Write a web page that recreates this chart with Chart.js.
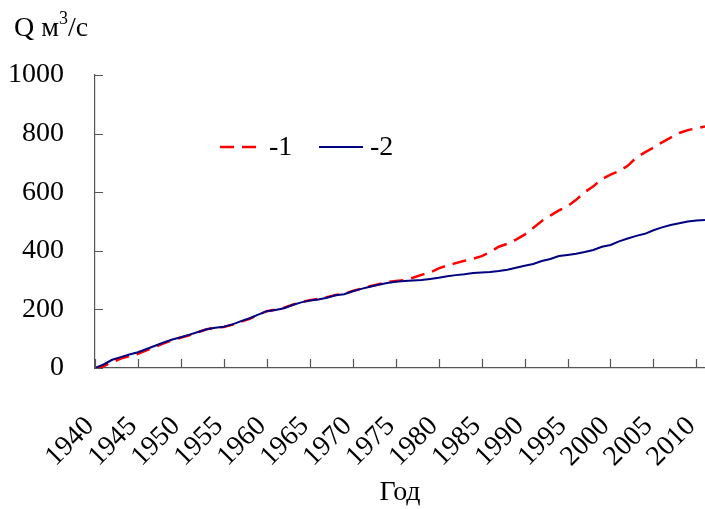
<!DOCTYPE html>
<html lang="ru">
<head>
  <meta charset="UTF-8">
  <title>Q м3/с по годам</title>
  <script src="https://cdn.jsdelivr.net/npm/chart.js"></script>
  <style>
    html, body { margin: 0; padding: 0; background: #fff; }
  </style>
</head>
<body>
<canvas id="flowChart" width="705" height="509"></canvas>

<script>
// years on the x axis
const years = [
  1940, 1941, 1942, 1943, 1944, 1945, 1946, 1947, 1948, 1949,
  1950, 1951, 1952, 1953, 1954, 1955, 1956, 1957, 1958, 1959,
  1960, 1961, 1962, 1963, 1964, 1965, 1966, 1967, 1968, 1969,
  1970, 1971, 1972, 1973, 1974, 1975, 1976, 1977, 1978, 1979,
  1980, 1981, 1982, 1983, 1984, 1985, 1986, 1987, 1988, 1989,
  1990, 1991, 1992, 1993, 1994, 1995, 1996, 1997, 1998, 1999,
  2000, 2001, 2002, 2003, 2004, 2005, 2006, 2007, 2008, 2009,
  2010, 2011
];

// series 1 (red dashed)
const flow1 = [
  0, 6, 20, 32, 40, 48, 60, 72, 84, 95,
  104, 112, 122, 132, 138, 140, 148, 158, 168, 182,
  194, 199, 206, 216, 225, 231, 236, 242, 249, 253,
  263, 271, 279, 286, 293, 297, 300, 308, 318, 326,
  340, 350, 358, 366, 373, 382, 396, 414, 424, 438,
  455, 478, 502, 520, 538, 552, 574, 600, 620, 645,
  660, 672, 690, 718, 736, 752, 770, 786, 802, 812,
  818, 824
];

// series 2 (blue solid)
const flow2 = [
  0, 12, 28, 37, 46, 54, 65, 76, 87, 97,
  105, 114, 123, 132, 137, 141, 149, 160, 170, 182,
  194, 198, 204, 215, 224, 230, 234, 240, 248, 252,
  262, 270, 277, 284, 290, 294, 297, 299, 300, 304,
  308, 313, 317, 320, 324, 326, 328, 331, 335, 342,
  349, 355, 365, 372, 382, 386, 390, 396, 403, 414,
  420, 432, 442, 451, 458, 470, 480, 488, 494, 500,
  503, 505
];

const seriesNames = ['-1', '-2'];
const xTicks = [1940, 1945, 1950, 1955, 1960, 1965, 1970, 1975, 1980, 1985, 1990, 1995, 2000, 2005, 2010];
const yTicks = [0, 200, 400, 600, 800, 1000];

const FONT = "'Liberation Serif', 'Times New Roman', serif";

function toPoints(vals) {
  return years.map((y, i) => ({ x: y, y: vals[i] }));
}

// inward tick marks, legend and the unit label
const extrasPlugin = {
  id: 'extras',
  afterDraw(chart) {
    const ctx = chart.ctx;
    const xs = chart.scales.x;
    const ys = chart.scales.y;
    const area = chart.chartArea;

    ctx.save();
    ctx.strokeStyle = '#555';
    ctx.lineWidth = 1.2;
    ctx.beginPath();
    xs.ticks.forEach(t => {
      const px = Math.round(xs.getPixelForValue(t.value)) + 0.5;
      ctx.moveTo(px, area.bottom);
      ctx.lineTo(px, area.bottom - 9);
    });
    ys.ticks.forEach(t => {
      const py = Math.round(ys.getPixelForValue(t.value)) + 0.5;
      ctx.moveTo(area.left, py);
      ctx.lineTo(area.left + 8, py);
    });
    ctx.stroke();

    // legend inside the plot
    const legendY = 147;
    const items = [
      { ds: chart.data.datasets[0], x0: 220, x1: 259, tx: 269 },
      { ds: chart.data.datasets[1], x0: 319, x1: 363, tx: 370 }
    ];
    ctx.font = '28px ' + FONT;
    ctx.fillStyle = '#000';
    ctx.textBaseline = 'middle';
    ctx.textAlign = 'left';
    items.forEach(it => {
      ctx.beginPath();
      ctx.strokeStyle = it.ds.borderColor;
      ctx.lineWidth = it.ds.borderWidth;
      ctx.setLineDash(it.ds.borderDash || []);
      ctx.moveTo(it.x0, legendY);
      ctx.lineTo(it.x1, legendY);
      ctx.stroke();
      ctx.setLineDash([]);
      ctx.fillText(it.ds.label, it.tx, legendY + 1);
    });

    // unit label "Q м3/с" with superscript
    ctx.textBaseline = 'alphabetic';
    let x = 14;
    const base = 36;
    ctx.font = '28px ' + FONT;
    ctx.fillText('Q м', x, base);
    x += ctx.measureText('Q м').width;
    ctx.font = '18px ' + FONT;
    ctx.fillText('3', x, base - 12);
    x += ctx.measureText('3').width;
    ctx.font = '28px ' + FONT;
    ctx.fillText('/с', x, base);
    ctx.restore();
  }
};

new Chart(document.getElementById('flowChart'), {
  type: 'line',
  data: {
    datasets: [
      {
        label: seriesNames[0],
        data: toPoints(flow1),
        borderColor: '#ff0000',
        borderWidth: 2.5,
        borderDash: [14, 8],
        pointRadius: 0,
        tension: 0,
        order: 1
      },
      {
        label: seriesNames[1],
        data: toPoints(flow2),
        borderColor: '#000080',
        borderWidth: 2,
        pointRadius: 0,
        tension: 0,
        order: 0
      }
    ]
  },
  options: {
    responsive: false,
    animation: false,
    devicePixelRatio: 1,
    layout: { padding: { top: 75, right: 0, left: 0, bottom: 0 } },
    plugins: {
      legend: { display: false },
      tooltip: { enabled: false }
    },
    scales: {
      x: {
        type: 'linear',
        min: years[0],
        max: years[years.length - 1],
        grid: { display: false },
        border: { display: true, color: '#555', width: 1.2 },
        ticks: {
          autoSkip: false,
          minRotation: 45,
          maxRotation: 45,
          padding: 34,
          labelOffset: -5,
          color: '#000',
          font: { family: FONT, size: 28 },
          callback: v => String(v)
        },
        afterBuildTicks: scale => {
          scale.ticks = xTicks.map(v => ({ value: v }));
        },
        afterFit: scale => {
          scale.height = 141;
          scale.paddingLeft = 0;
          scale.paddingRight = 0;
        },
        title: {
          display: true,
          text: 'Год',
          color: '#000',
          font: { family: FONT, size: 28 },
          padding: { top: 0, bottom: 0 }
        }
      },
      y: {
        min: 0,
        max: 1000,
        grid: { display: false },
        border: { display: true, color: '#555', width: 1.2 },
        afterBuildTicks: scale => {
          scale.ticks = yTicks.map(v => ({ value: v }));
        },
        ticks: {
          padding: 23,
          color: '#000',
          font: { family: FONT, size: 28 },
          callback: v => String(v)
        },
        afterFit: scale => {
          scale.width = 95;
        }
      }
    }
  },
  plugins: [extrasPlugin]
});
</script>
</body>
</html>
